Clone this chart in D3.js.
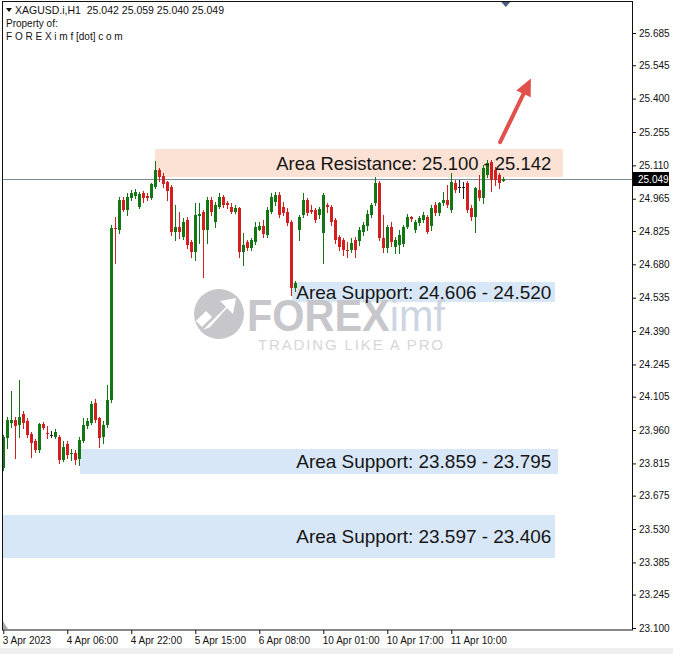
<!DOCTYPE html>
<html><head><meta charset="utf-8">
<script src="https://cdn.jsdelivr.net/npm/d3@7"></script>
<style>body{margin:0;background:#fff}svg{display:block}</style>
</head><body><svg id="c" width="673" height="654"></svg>
<script>
// ---------- data ----------
const headerText = "XAGUSD.i,H1  25.042 25.059 25.040 25.049";
const ownerLines = ["Property of:", "F O R E X i m f [dot] c o m"];
const lastPrice = 25.049;

const open = [
23.795,23.925,23.991,24.004,23.982,24.030,23.999,23.943,23.912,23.873,
23.986,23.947,23.938,23.930,23.930,23.830,23.899,23.856,23.860,23.834,
23.912,23.977,23.991,24.077,24.012,23.930,23.982,24.090,24.839,24.829,
24.959,24.916,24.968,24.977,24.929,24.990,24.977,24.968,25.016,25.090,
25.064,25.038,25.016,24.820,24.842,24.799,24.872,24.777,24.733,24.890,
24.907,24.829,24.959,24.864,24.929,24.972,24.946,24.929,24.907,24.924,
24.733,24.777,24.751,24.777,24.829,24.846,24.807,24.907,24.950,24.981,
24.929,24.907,24.864,24.577,24.829,24.894,24.959,24.916,24.916,24.894,
24.816,24.937,24.929,24.872,24.798,24.785,24.744,24.742,24.785,24.781,
24.820,24.846,24.894,24.946,25.033,24.794,24.751,24.842,24.755,24.764,
24.768,24.842,24.885,24.829,24.859,24.872,24.885,24.846,24.937,24.903,
24.946,24.959,24.916,25.033,25.016,25.014,25.033,24.924,24.885,25.003,
24.968,25.068,25.124,25.090,25.068,25.042];
const high = [
23.938,24.017,24.130,24.017,24.177,24.043,24.012,23.951,23.921,23.991,
23.995,23.977,23.956,23.964,23.938,23.912,23.912,23.878,23.873,23.930,
24.012,24.012,24.086,24.095,24.017,23.999,24.156,24.850,24.887,24.972,
24.972,24.990,25.003,25.007,24.994,24.998,24.990,25.033,25.129,25.098,
25.077,25.042,25.024,24.937,24.907,24.881,24.885,24.785,24.946,24.946,
24.916,24.972,24.972,24.950,24.990,24.981,24.955,24.946,24.937,24.929,
24.816,24.785,24.794,24.864,24.864,24.872,24.929,24.990,24.994,24.994,
24.950,24.924,24.872,24.607,24.894,24.990,24.968,24.937,24.924,24.929,
24.990,24.946,24.937,24.881,24.807,24.794,24.777,24.794,24.798,24.842,
24.864,24.916,24.946,25.059,25.042,24.894,24.851,24.864,24.798,24.829,
24.851,24.898,24.890,24.872,24.890,24.907,24.894,24.937,24.950,24.950,
24.994,25.024,25.077,25.046,25.046,25.037,25.042,24.937,25.016,25.068,
25.111,25.133,25.133,25.103,25.077,25.059];
const low = [
23.786,23.882,23.973,23.838,23.930,23.969,23.930,23.843,23.864,23.864,
23.964,23.925,23.930,23.925,23.817,23.825,23.838,23.830,23.812,23.808,
23.908,23.969,23.986,23.995,23.886,23.904,23.973,24.080,24.686,24.816,
24.911,24.894,24.959,24.968,24.924,24.951,24.959,24.964,25.012,25.042,
25.016,24.959,24.807,24.785,24.794,24.790,24.751,24.712,24.699,24.773,
24.625,24.773,24.894,24.842,24.924,24.929,24.924,24.903,24.903,24.712,
24.677,24.742,24.742,24.768,24.829,24.799,24.799,24.903,24.937,24.885,
24.894,24.851,24.547,24.564,24.785,24.885,24.894,24.903,24.864,24.881,
24.686,24.907,24.851,24.773,24.742,24.720,24.712,24.733,24.712,24.764,
24.807,24.829,24.885,24.937,24.785,24.733,24.733,24.760,24.729,24.729,
24.760,24.838,24.868,24.820,24.851,24.864,24.816,24.829,24.894,24.894,
24.937,24.929,24.907,24.994,24.994,24.968,24.907,24.872,24.820,24.959,
24.946,25.059,24.998,25.024,25.011,25.040];
const close = [
23.930,24.004,24.004,23.977,24.017,23.991,23.938,23.904,23.873,23.986,
23.969,23.943,23.940,23.951,23.830,23.886,23.852,23.860,23.830,23.917,
23.982,23.999,24.073,24.004,23.925,23.982,24.090,24.837,24.833,24.959,
24.916,24.972,24.990,24.994,24.985,24.968,24.968,25.029,25.090,25.059,
25.029,24.998,24.820,24.842,24.820,24.864,24.764,24.733,24.894,24.898,
24.829,24.959,24.907,24.937,24.972,24.937,24.937,24.907,24.924,24.733,
24.764,24.751,24.785,24.842,24.846,24.812,24.916,24.972,24.981,24.894,
24.903,24.859,24.577,24.599,24.885,24.959,24.903,24.907,24.872,24.920,
24.981,24.929,24.864,24.785,24.755,24.742,24.740,24.773,24.742,24.829,
24.851,24.898,24.937,25.033,24.794,24.751,24.842,24.777,24.785,24.807,
24.842,24.885,24.877,24.864,24.881,24.894,24.820,24.924,24.903,24.946,
24.959,24.937,25.037,25.003,25.014,25.016,24.916,24.885,25.011,24.968,
25.098,25.120,25.046,25.046,25.033,25.049];

const priceTicks = [25.685,25.545,25.400,25.255,25.110,24.965,24.825,24.680,24.535,24.390,
                    24.245,24.105,23.960,23.815,23.675,23.530,23.385,23.245,23.100];
const timeTickIdx = [0,16,32,48,64,80,96,112];
const timeLabels = ["3 Apr 2023","4 Apr 06:00","4 Apr 22:00","5 Apr 15:00",
                    "6 Apr 08:00","10 Apr 01:00","10 Apr 17:00","11 Apr 10:00"];

const zoneLabels = ["Area Resistance: 25.100 - 25.142","Area Support: 24.606 - 24.520",
                    "Area Support: 23.859 - 23.795","Area Support: 23.597 - 23.406"];
const zoneKind  = ["res","sup","sup","sup"];
const zoneTop   = [25.181, 24.603, 23.878, 23.591];
const zoneBot   = [25.059, 24.516, 23.769, 23.404];
const zoneStart = [37.9, 72.2, 19.2, -0.1];
const zoneEnd   = [139.9, 137.9, 138.7, 137.9];
const zoneTextEndIdx = 137;

const arrowFrom = [124.2, 25.211];
const arrowTo   = [131.9, 25.487];

// ---------- layout ----------
const svg = d3.select("#c");
const P = {l:2, t:2, r:632, b:630};
const x = d3.scaleLinear().domain([0,157]).range([3.3, 631.3]);
const y = d3.scaleLinear().domain([23.100, 25.685]).range([628, 33]);
const FONT = "'Liberation Sans', Arial, sans-serif";

svg.append("rect").attr("x",0).attr("y",648).attr("width",673).attr("height",6).attr("fill","#efefef");

const plot = svg.append("g");
plot.append("defs").append("clipPath").attr("id","clip")
  .append("rect").attr("x",P.l).attr("y",P.t).attr("width",P.r-P.l).attr("height",P.b-P.t);
const g = plot.append("g").attr("clip-path","url(#clip)");

// zones
const zi = d3.range(zoneLabels.length);
g.selectAll("rect.zone").data(zi).join("rect").attr("class","zone")
  .attr("x", i => Math.round(x(zoneStart[i])))
  .attr("width", i => Math.round(x(zoneEnd[i])) - Math.round(x(zoneStart[i])))
  .attr("y", i => Math.round(y(zoneTop[i])))
  .attr("height", i => Math.round(y(zoneBot[i])) - Math.round(y(zoneTop[i])))
  .attr("fill", i => zoneKind[i]==="res" ? "#fbe2d4" : "#d8e7f7");

// current price line
g.append("line").attr("x1",P.l).attr("x2",P.r)
  .attr("y1", Math.round(y(lastPrice))+0.5).attr("y2", Math.round(y(lastPrice))+0.5)
  .attr("stroke","#7d8b99").attr("stroke-width",1);

// candles
const GREEN = "#137513", RED = "#d21f1f";
const idx = d3.range(open.length);
const colorOf = i => Math.abs(close[i]-open[i]) < 0.0025 ? "#222" : (close[i] >= open[i] ? GREEN : RED);
g.selectAll("line.wick").data(idx).join("line").attr("class","wick")
  .attr("x1", i => Math.round(x(i))+0.5).attr("x2", i => Math.round(x(i))+0.5)
  .attr("y1", i => Math.round(y(high[i]))).attr("y2", i => Math.round(y(low[i]))+1)
  .attr("stroke", colorOf).attr("stroke-width",1);
g.selectAll("rect.body").data(idx).join("rect").attr("class","body")
  .attr("x", i => Math.round(x(i))-1).attr("width",3)
  .attr("y", i => Math.round(y(Math.max(open[i],close[i]))))
  .attr("height", i => Math.max(1, Math.round(y(Math.min(open[i],close[i]))) - Math.round(y(Math.max(open[i],close[i])))))
  .attr("fill", colorOf);

// watermark
const wm = g.append("g");
wm.append("circle").attr("cx",219).attr("cy",314).attr("r",25).attr("fill","#c6c6cb");
wm.append("path").attr("d","M203,330 L226,307 L220,301 L236,298 L233,314 L227,308 L210,327 Z").attr("fill","#fff");
wm.append("path").attr("d","M196,321 L206,311 L212,317 L202,327 Z").attr("fill","#fff");
const wt = wm.append("text").attr("x",247).attr("y",331).attr("font-family",FONT).attr("font-size",44)
  .attr("textLength",198).attr("lengthAdjust","spacingAndGlyphs");
wt.append("tspan").attr("font-weight","bold").attr("fill","#c6c6cb").text("FOREX");
wt.append("tspan").attr("fill","#ccd5e1").text("imf");
wm.append("text").attr("x",258).attr("y",350).attr("font-family",FONT)
  .attr("font-size",15).attr("textLength",185).attr("lengthAdjust","spacing")
  .attr("fill","#d6d6da").text("TRADING LIKE A PRO");

// zone labels
const zoneTextLen = {res:275, sup:255};
g.selectAll("text.zl").data(zi).join("text").attr("class","zl")
  .attr("x", x(zoneTextEndIdx)).attr("text-anchor","end")
  .attr("y", i => (y(zoneTop[i]) + y(zoneBot[i]))/2 + 6.5)
  .attr("font-family", FONT).attr("font-size", 18.5).attr("fill","#151515")
  .attr("textLength", i => zoneTextLen[zoneKind[i]]).attr("lengthAdjust","spacingAndGlyphs")
  .text(i => zoneLabels[i]);

// arrow
const ax0 = x(arrowFrom[0]), ay0 = y(arrowFrom[1]), ax1 = x(arrowTo[0]), ay1 = y(arrowTo[1]);
const ang = Math.atan2(ay1-ay0, ax1-ax0), HL = 17, HW = 8;
const bx = ax1 - HL*Math.cos(ang), by = ay1 - HL*Math.sin(ang);
g.append("line").attr("x1",ax0).attr("y1",ay0).attr("x2",bx+2*Math.cos(ang)).attr("y2",by+2*Math.sin(ang))
  .attr("stroke","#e0504c").attr("stroke-width",4).attr("stroke-linecap","round");
g.append("path").attr("fill","#e0504c").attr("d",
  `M${ax1},${ay1} L${bx - HW*Math.sin(ang)},${by + HW*Math.cos(ang)} L${bx + HW*Math.sin(ang)},${by - HW*Math.cos(ang)} Z`);

// header
svg.append("path").attr("d","M6,8 L12,8 L9,12 Z").attr("fill","#111");
svg.append("text").attr("x",15).attr("y",14).attr("font-family",FONT).attr("font-size",10.5).attr("fill","#111")
  .attr("xml:space","preserve").text(headerText);
svg.selectAll("text.own").data(ownerLines).join("text").attr("class","own")
  .attr("x",6).attr("y",(d,i)=>27+i*12.5).attr("font-family",FONT).attr("font-size",10).attr("fill","#111").text(d=>d);

// shift marker & small corner marker
svg.append("path").attr("d",`M${x(125)-2},2 L${x(125)+7},2 L${x(125)+2.5},7 Z`).attr("fill","#4d5f80");
svg.append("path").attr("d","M3,629 L3,621 L8,629 Z").attr("fill","#aaa");

// axes
const yAxis = d3.axisRight(y).tickValues(priceTicks).tickSize(4).tickPadding(3).tickFormat(d3.format(".3f"));
const ya = svg.append("g").attr("transform",`translate(${P.r},0)`).call(yAxis);
ya.select(".domain").remove();
ya.selectAll("text").attr("font-family",FONT).attr("font-size",10).attr("fill","#111");
ya.selectAll("line").attr("stroke","#111");

const xAxis = d3.axisBottom(x).tickValues(timeTickIdx).tickSize(4).tickPadding(3)
  .tickFormat((d,i) => timeLabels[i]);
const xa = svg.append("g").attr("transform",`translate(0,${P.b})`).call(xAxis);
xa.select(".domain").remove();
xa.selectAll("text").attr("text-anchor","start").attr("dx",-1).attr("font-family",FONT).attr("font-size",10).attr("fill","#111");
xa.selectAll("line").attr("stroke","#111");

// border
svg.append("rect").attr("x",P.l+0.5).attr("y",P.t-0.5).attr("width",P.r-P.l).attr("height",P.b-P.t+0.5)
  .attr("fill","none").attr("stroke","#111").attr("stroke-width",1);

// price tag
const tagY = Math.round(y(lastPrice));
svg.append("rect").attr("x",P.r+1).attr("y",tagY-7).attr("width",36).attr("height",14).attr("fill","#000");
svg.append("text").attr("x",P.r+6).attr("y",tagY+4).attr("font-family",FONT).attr("font-size",10)
  .attr("fill","#fff").text(d3.format(".3f")(lastPrice));
</script></body></html>
